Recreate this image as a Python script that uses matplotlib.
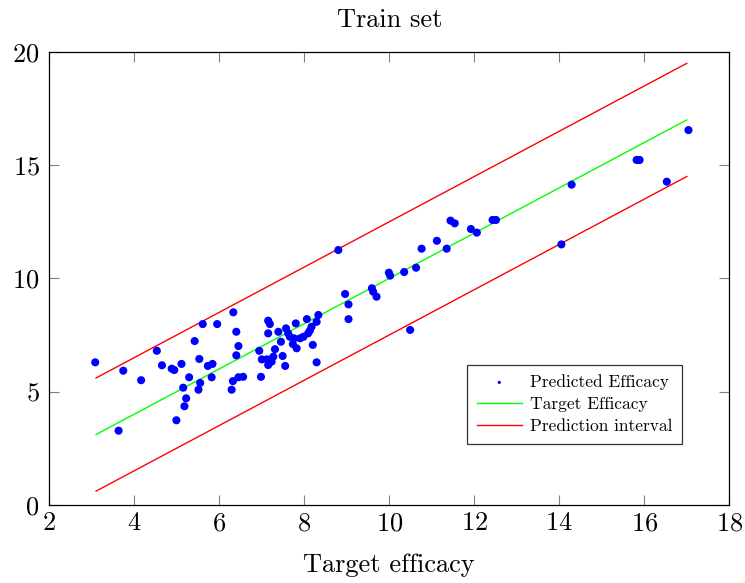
import numpy as np
import matplotlib
matplotlib.use('Agg')
import matplotlib.pyplot as plt

plt.rcParams['font.family'] = 'serif'
plt.rcParams['font.serif'] = ['cmr10', 'DejaVu Serif']
plt.rcParams['mathtext.fontset'] = 'cm'
plt.rcParams['axes.formatter.use_mathtext'] = True

# --- datos ---
target_x = [3.08, 3.74, 4.16, 3.63, 4.53, 4.65, 4.88, 4.94, 5.11, 5.29,
            5.15, 5.22, 5.18, 4.99, 5.42, 5.61, 5.95, 5.53, 5.73, 5.84,
            5.55, 5.51, 5.82, 6.33, 6.40, 6.45, 6.40, 6.32, 6.29, 6.45,
            6.56, 6.98, 6.94, 7.00, 7.12, 7.23, 7.15, 7.19, 7.15, 7.39,
            7.45, 7.31, 7.27, 7.15, 7.49, 7.55, 7.57, 7.62, 7.66, 7.80,
            7.73, 7.76, 7.82, 7.90, 7.98, 8.06, 8.09, 8.13, 8.17, 8.20,
            8.29, 8.33, 8.29, 8.80, 8.96, 9.04, 9.04, 9.59, 9.62, 9.70,
            9.99, 10.02, 10.35, 10.63, 10.49, 10.76, 11.12, 11.35, 11.44, 11.54,
            11.92, 12.06, 12.43, 12.51, 14.05, 14.29, 15.82, 15.89, 16.53, 17.04]
predicted_y = [6.29, 5.92, 5.50, 3.27, 6.80, 6.16, 6.01, 5.95, 6.22, 5.63,
               5.17, 4.70, 4.35, 3.73, 7.23, 7.98, 7.98, 6.44, 6.13, 6.22,
               5.38, 5.08, 5.63, 8.50, 7.64, 7.01, 6.60, 5.46, 5.08, 5.63,
               5.65, 5.65, 6.80, 6.42, 6.42, 6.32, 8.13, 7.98, 7.57, 7.64,
               7.20, 6.87, 6.54, 6.17, 6.57, 6.13, 7.79, 7.57, 7.42, 8.01,
               7.10, 7.35, 6.91, 7.35, 7.42, 8.20, 7.57, 7.69, 7.86, 7.06,
               8.08, 8.38, 6.29, 11.25, 9.31, 8.85, 8.20, 9.56, 9.41, 9.19,
               10.25, 10.12, 10.28, 10.47, 7.72, 11.31, 11.66, 11.31, 12.55, 12.43,
               12.18, 12.02, 12.58, 12.58, 11.50, 14.14, 15.23, 15.23, 14.27, 16.55]
line_x = [3.1, 17.0]
interval = 2.5

line_x = np.array(line_x)

fig = plt.figure(figsize=(7.45, 5.83), dpi=100)
ax = fig.add_axes([0.0662, 0.1343, 0.9127, 0.7765])

ax.scatter(target_x, predicted_y, s=34, color='#0000ff', edgecolors='none',
           label='Predicted Efficacy', zorder=3)
ax.plot(line_x, line_x, color='#00ff00', lw=1.0, label='Target Efficacy')
ax.plot(line_x, line_x + interval, color='#ff0000', lw=1.0, label='Prediction interval')
ax.plot(line_x, line_x - interval, color='#ff0000', lw=1.0)

ax.set_xlim(2, 18)
ax.set_ylim(0, 20)
ax.set_xticks(np.arange(2, 19, 2))
ax.set_yticks(np.arange(0, 21, 5))
ax.tick_params(direction='in', top=True, right=True, length=7, width=0.8,
               color='#808080', labelsize=19)
ax.tick_params(axis='x', pad=5)
ax.tick_params(axis='y', pad=7)
for s in ax.spines.values():
    s.set_linewidth(0.9)

ax.set_title('Train set', fontsize=19, pad=18)
ax.set_xlabel('Target efficacy', fontsize=19, labelpad=13)

leg = ax.legend(loc='lower right', bbox_to_anchor=(0.93, 0.134), borderaxespad=0,
                fontsize=12.5, frameon=True, fancybox=False, edgecolor='black',
                markerscale=0.4, handlelength=2.6, handletextpad=0.45,
                borderpad=0.55, labelspacing=0.4)
leg.get_frame().set_linewidth(0.9)

fig.savefig('out.png', dpi=100)
